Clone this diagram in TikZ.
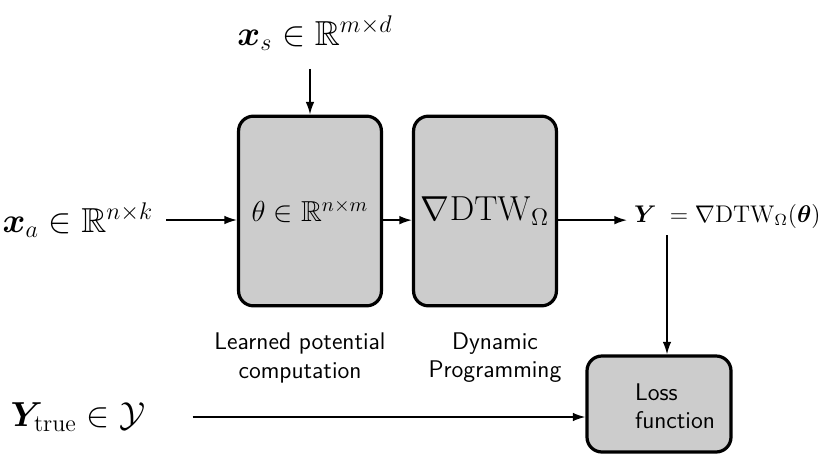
\documentclass[tikz,border=0pt]{standalone}
\usepackage{amsmath,amssymb,bm}
\usetikzlibrary{positioning}
\usetikzlibrary{arrows.meta}

\begin{document}
\begin{tikzpicture}[x=0.0175cm,y=-0.0175cm,>={Latex[length=2.2mm,width=1.5mm]},
  block/.style={draw,line width=1.6pt,rounded corners=0.26cm,fill=gray!40,minimum width=2.5cm,minimum height=3.32cm},
  caption/.style={font=\sffamily\large,align=center}]
\useasboundingbox (0,0) rectangle (831,455);

% the two stages
\node[block] (pot) at (310,211) {\Large $\theta \in \mathbb{R}^{n\times m}$};
\node[block] (dtw) at (485,211) {\LARGE $\nabla\mathrm{DTW}_{\Omega}$};
\node[block,minimum width=2.52cm,minimum height=1.68cm] (loss) at (659,404) {};
\node[font=\sffamily\large,align=left] (losstxt) at (675,406) {Loss\\function};

% inputs and output
\node (xs) at (315,33) {\LARGE $\bm{x}_s \in \mathbb{R}^{m\times d}$};
\node (xa) at (78,220) {\LARGE $\bm{x}_a \in \mathbb{R}^{n\times k}$};
\node[anchor=west] (yout) at (627,216) {\large $\bm{Y}\; = \nabla\mathrm{DTW}_{\Omega}(\bm{\theta})$};
\node (ytrue) at (78,417) {\LARGE $\bm{Y}_{\mathrm{true}} \in \mathcal{Y}$};

\node[caption] (potlbl) at (300,358) {Learned potential\\computation};
\node[caption] (dtwlbl) at (495,358) {Dynamic\\Programming};

\draw[->,thick] ([yshift=-0.2cm]xs.south -| pot.north) -- (pot.north);
\draw[->,thick] ([xshift=0.1cm]xa.east) -- (xa.east -| pot.west);
\draw[->,thick] ([yshift=-0.16cm]pot.east) -- ([yshift=-0.16cm]dtw.west);
\draw[->,thick] ([yshift=-0.16cm]dtw.east) -- ([yshift=-0.16cm]dtw.east -| yout.west);
\draw[->,thick] ([xshift=0.14cm]yout.south -| loss.north) -- ([xshift=0.14cm]loss.north);
\draw[->,thick] ([xshift=0.7cm]ytrue.east) -- (ytrue.east -| loss.west);
\end{tikzpicture}
\end{document}
